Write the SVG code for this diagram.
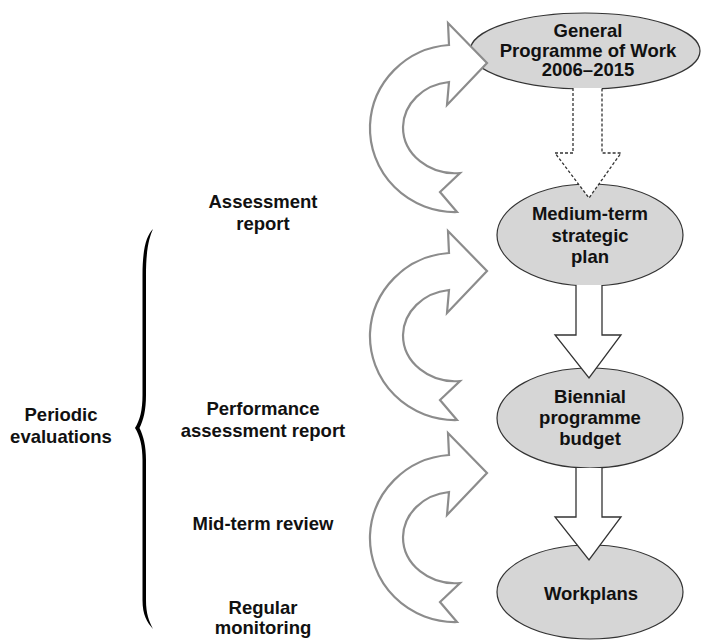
<svg xmlns="http://www.w3.org/2000/svg" width="701" height="640" viewBox="0 0 701 640">
<defs>
<style>
.t{font-family:"Liberation Sans",Arial,sans-serif;font-weight:bold;font-size:18.5px;fill:#111;text-anchor:middle}
.el{fill:#d6d6d6;stroke:#333;stroke-width:1.2}
.ca{fill:#fff;stroke:#8c8c8c;stroke-width:2.2;stroke-linejoin:miter}
.sa{fill:#fff;stroke:#333;stroke-width:1.3}
.da{fill:#fff;stroke:#333;stroke-width:1.3;stroke-dasharray:3 2}
</style>
<path id="curv" d="M449,45 L448,23 L487,63 L447,105 L449,82 A52 46 0 0 0 403,127 A52 46 0 0 0 460,173 L440,192 L457,212 A85 84 0 0 1 370,125 A85 84 0 0 1 449,45 Z"/>
</defs>
<rect width="701" height="640" fill="#fff"/>
<g id="node-gpw">
<ellipse class="el" cx="585" cy="51" rx="115" ry="38"/>
<text class="t" x="588" y="37">General</text>
<text class="t" x="588" y="57">Programme of Work</text>
<text class="t" x="588" y="76">2006–2015</text>
</g>
<g id="node-mtsp">
<ellipse class="el" cx="590" cy="235" rx="93" ry="51"/>
<text class="t" x="590" y="220">Medium-term</text>
<text class="t" x="590" y="242">strategic</text>
<text class="t" x="590" y="263">plan</text>
</g>
<g id="node-bpb">
<ellipse class="el" cx="590" cy="418" rx="93" ry="50"/>
<text class="t" x="590" y="403">Biennial</text>
<text class="t" x="590" y="424">programme</text>
<text class="t" x="590" y="445">budget</text>
</g>
<g id="node-workplans">
<ellipse class="el" cx="590" cy="592" rx="93" ry="47"/>
<text class="t" x="591" y="600">Workplans</text>
</g>
<g id="connectors">
<path class="da" d="M573,88 L573,153 L555,153 L589,198 L621,153 L602,153 L602,88"/>
<path class="sa" d="M576,285 L576,335 L555,335 L589,378 L621,335 L602,335 L602,285"/>
<path class="sa" d="M576,468 L576,517 L555,517 L589,560 L621,517 L602,517 L602,468"/>
<use href="#curv" class="ca"/>
<use href="#curv" class="ca" transform="translate(0,208)"/>
<use href="#curv" class="ca" transform="translate(0,410)"/>
</g>
<g id="brace">
<path fill="#000" d="M153,229 C146,236 142.5,250 142.5,275 L142.5,395 C142.5,410 140,420 135,428 C140,436 142.5,446 142.5,460 L142.5,600 C142.5,615 147,622 153,629 C149,621 146,614 146,600 L146,460 C146,446 143.5,436 139.5,428 C143.5,420 146,410 146,395 L146,275 C146,250 149,238 153,229 Z"/>
</g>
<g id="labels">
<text class="t" x="263" y="208">Assessment</text>
<text class="t" x="263" y="230">report</text>
<text class="t" x="263" y="415">Performance</text>
<text class="t" x="263" y="437">assessment report</text>
<text class="t" x="263" y="530">Mid-term review</text>
<text class="t" x="263" y="614">Regular</text>
<text class="t" x="263" y="634">monitoring</text>
<text class="t" x="61" y="421">Periodic</text>
<text class="t" x="61" y="443">evaluations</text>
</g>
</svg>
